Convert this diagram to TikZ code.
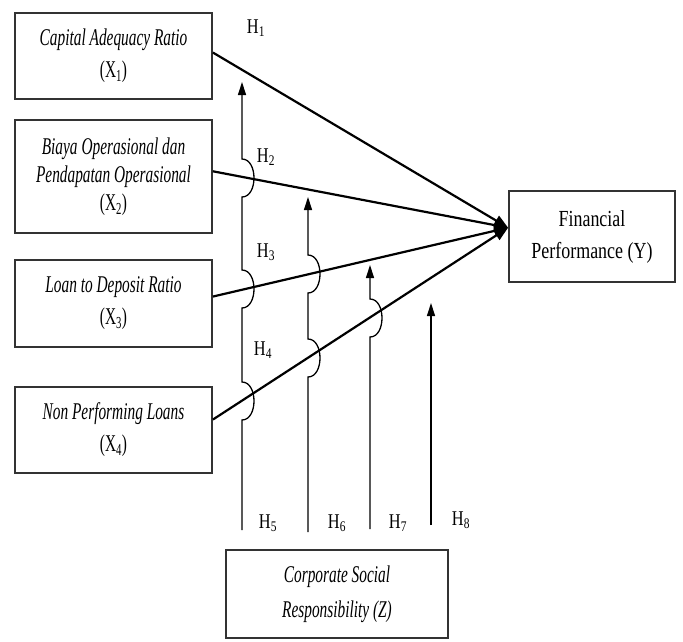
\documentclass[tikz,border=0pt]{standalone}
\usepackage{fontspec}
\setmainfont{Liberation Serif}[FakeStretch=0.64]
\newfontfamily\plainfont{Liberation Serif}[FakeStretch=0.78]
\usetikzlibrary{arrows.meta}

\begin{document}
\begin{tikzpicture}[x=1pt,y=-1pt,
  box/.style={draw=black!80,line width=1.8pt,minimum width=197pt,align=center,
    inner sep=2pt,font=\fontsize{24}{32}\selectfont},
  hlab/.style={font=\plainfont\fontsize{21}{21}\selectfont},
  rel/.style={line width=2.2pt,-{Triangle[length=14pt,width=11pt]}},
  vline/.style={line width=1.3pt,-{Triangle[length=13pt,width=8pt]}},
  hop/.style args={#1/#2}{insert path={-- (#1,#2+19)
    .. controls +(16,0) and +(16,0) .. (#1,#2-19)}}]
  \useasboundingbox (0,0) rectangle (683,641);
  % 自变量
  \node[box,minimum height=86pt] (x1) at (113.5,56)
    {\textit{Capital Adequacy Ratio}\\(X\textsubscript{1})};
  \node[box,minimum height=113pt,font=\fontsize{24}{28}\selectfont] (x2) at (113.5,176.5)
    {\textit{Biaya Operasional dan}\\\textit{Pendapatan Operasional}\\(X\textsubscript{2})};
  \node[box,minimum height=87pt] (x3) at (113.5,303.5)
    {\textit{Loan to Deposit Ratio}\\(X\textsubscript{3})};
  \node[box,minimum height=86pt] (x4) at (113.5,430)
    {\textit{Non Performing Loans}\\(X\textsubscript{4})};
  % 因变量与调节变量
  \node[box,minimum width=166pt,minimum height=91pt,
    font=\plainfont\fontsize{23}{32}\selectfont] (y) at (592,236.5)
    {Financial\\Performance (Y)};
  \node[box,minimum width=222pt,minimum height=88pt,
    font=\fontsize{24}{35}\selectfont] (z) at (337,594)
    {\textit{Corporate Social}\\\textit{Responsibility (Z)}};
  % 直接影响
  \draw[rel] (x1.2) -- (y.174);
  \draw[rel] (x2.3) -- (y.174);
  \draw[rel] (x3.4) -- (y.174);
  \draw[rel] (x4.6) -- (y.174);
  % 调节作用
  \foreach \i/\x/\b/\t in {5/242/530/82,6/308/532/197,7/370/529/265,8/431/525/303} {
    \coordinate (b\i) at (\x,\b);
    \coordinate (t\i) at (\x,\t);
  }
  \draw[vline] (b5) [hop=242/401] [hop=242/289] [hop=242/178] -- (t5);
  \draw[vline] (b6) [hop=308/358] [hop=308/274] -- (t6);
  \draw[vline] (b7) [hop=370/318] -- (t7);
  \draw[vline] (b8) -- (t8);
  % 假设标记
  \foreach \i/\x/\y in {1/256/28,2/266/157,3/266/252,4/263/350,
    5/268/523,6/337/523,7/398/523,8/461/520}
    \node[hlab] (h\i) at (\x,\y) {H\textsubscript{\i}};
\end{tikzpicture}
\end{document}
